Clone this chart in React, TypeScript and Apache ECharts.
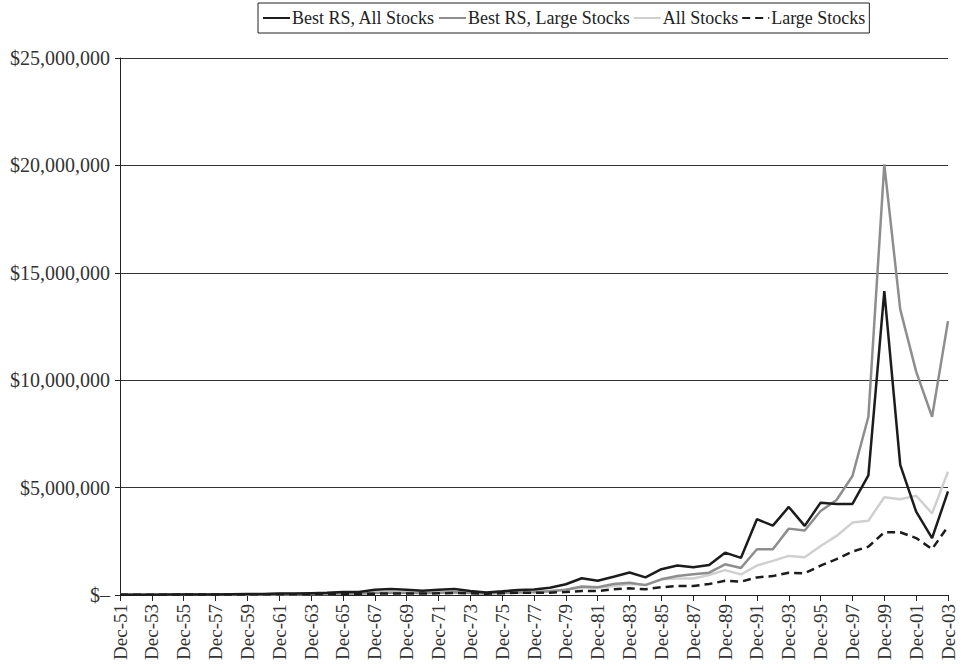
import React, { useEffect, useRef } from "react";
import * as echarts from "echarts";

const categories = [
  "Dec-51","Dec-52","Dec-53","Dec-54","Dec-55","Dec-56","Dec-57","Dec-58","Dec-59","Dec-60",
  "Dec-61","Dec-62","Dec-63","Dec-64","Dec-65","Dec-66","Dec-67","Dec-68","Dec-69","Dec-70",
  "Dec-71","Dec-72","Dec-73","Dec-74","Dec-75","Dec-76","Dec-77","Dec-78","Dec-79","Dec-80",
  "Dec-81","Dec-82","Dec-83","Dec-84","Dec-85","Dec-86","Dec-87","Dec-88","Dec-89","Dec-90",
  "Dec-91","Dec-92","Dec-93","Dec-94","Dec-95","Dec-96","Dec-97","Dec-98","Dec-99","Dec-00",
  "Dec-01","Dec-02","Dec-03",
];

const bestRsAllStocks = [
  10000, 11000, 11000, 18000, 22000, 25000, 22000, 40000, 50000, 50000,
  70000, 65000, 85000, 100000, 140000, 140000, 240000, 280000, 240000, 200000,
  240000, 280000, 190000, 120000, 170000, 230000, 260000, 340000, 500000, 780000,
  660000, 850000, 1050000, 820000, 1200000, 1370000, 1290000, 1400000, 1970000, 1730000,
  3530000, 3230000, 4100000, 3220000, 4300000, 4240000, 4240000, 5570000, 14150000, 6060000,
  3880000, 2650000, 4820000,
];

const bestRsLargeStocks = [
  10000, 11000, 11000, 16000, 20000, 22000, 20000, 30000, 36000, 37000,
  48000, 43000, 53000, 62000, 75000, 70000, 100000, 110000, 100000, 90000,
  110000, 130000, 100000, 70000, 100000, 120000, 130000, 170000, 240000, 400000,
  360000, 510000, 570000, 460000, 730000, 880000, 970000, 1040000, 1430000, 1260000,
  2130000, 2130000, 3090000, 3000000, 3910000, 4420000, 5540000, 8300000, 20050000, 13300000,
  10400000, 8300000, 12750000,
];

const allStocks = [
  10000, 11000, 11000, 16000, 19000, 20000, 18000, 27000, 31000, 31000,
  40000, 36000, 43000, 50000, 62000, 58000, 86000, 110000, 90000, 85000,
  100000, 110000, 85000, 66000, 100000, 140000, 160000, 190000, 250000, 340000,
  340000, 420000, 510000, 480000, 730000, 770000, 770000, 930000, 1160000, 960000,
  1370000, 1590000, 1820000, 1760000, 2280000, 2750000, 3370000, 3460000, 4550000, 4460000,
  4620000, 3800000, 5740000,
];

const largeStocks = [
  10000, 11000, 11000, 16000, 19000, 21000, 19000, 26000, 29000, 30000,
  37000, 34000, 41000, 47000, 53000, 49000, 62000, 70000, 65000, 68000,
  80000, 94000, 82000, 60000, 80000, 100000, 100000, 110000, 140000, 190000,
  180000, 270000, 310000, 270000, 360000, 420000, 420000, 510000, 660000, 620000,
  820000, 880000, 1040000, 1010000, 1370000, 1670000, 2020000, 2250000, 2920000, 2920000,
  2650000, 2140000, 3190000,
];

const seriesNames = ["Best RS, All Stocks", "Best RS, Large Stocks", "All Stocks", "Large Stocks"];

const FONT = "'Liberation Serif', 'Times New Roman', serif";

export default function App() {
  const ref = useRef<HTMLDivElement>(null);

  useEffect(() => {
    if (!ref.current) return;
    const chart = echarts.init(ref.current, undefined, { renderer: "svg" });
    const mk = (name: string, data: number[], color: string, type: any, z: number) => ({
      name,
      type: "line",
      data,
      symbol: "none",
      z,
      lineStyle: { color, width: 2.5, type },
      itemStyle: { color },
    });
    chart.setOption({
      animation: false,
      backgroundColor: "#ffffff",
      textStyle: { fontFamily: FONT },
      legend: {
        top: 3,
        left: 258,
        data: seriesNames,
        borderColor: "#222",
        borderWidth: 1,
        padding: [6, 4, 6, 4],
        itemGap: 3,
        itemWidth: 27,
        itemHeight: 14,
        itemStyle: { opacity: 0 },
        textStyle: { fontFamily: FONT, fontSize: 18, color: "#222", padding: [0, 0, 0, -3] },
      },
      grid: { left: 120, right: 15, top: 58, bottom: 76, containLabel: false },
      xAxis: {
        type: "category",
        data: categories,
        boundaryGap: false,
        axisLine: { lineStyle: { color: "#222", width: 1 } },
        axisTick: { interval: 1, length: 6, lineStyle: { color: "#222" } },
        axisLabel: {
          interval: 1,
          rotate: 90,
          margin: 9,
          fontFamily: FONT,
          fontSize: 19,
          color: "#333",
        },
        splitLine: { show: false },
      },
      yAxis: {
        type: "value",
        min: 0,
        max: 25000000,
        interval: 5000000,
        axisLine: { show: true, lineStyle: { color: "#222", width: 1 } },
        axisTick: { show: true, length: 5, lineStyle: { color: "#222" } },
        axisLabel: {
          margin: 10,
          fontFamily: FONT,
          fontSize: 20,
          color: "#333",
          formatter: (v: number) => (v === 0 ? "$\u2013" : "$" + v.toLocaleString("en-US")),
        },
        splitLine: { show: true, lineStyle: { color: "#333", width: 1 } },
      },
      series: [
        mk(seriesNames[0], bestRsAllStocks, "#1c1c1c", "solid", 5),
        mk(seriesNames[1], bestRsLargeStocks, "#8e8e8e", "solid", 4),
        mk(seriesNames[2], allStocks, "#d0d0d0", "solid", 3),
        mk(seriesNames[3], largeStocks, "#1c1c1c", [8, 5], 6),
      ],
    });
    return () => chart.dispose();
  }, []);

  return <div ref={ref} style={{ width: 963, height: 671, position: "absolute", left: 0, top: 0 }} />;
}
